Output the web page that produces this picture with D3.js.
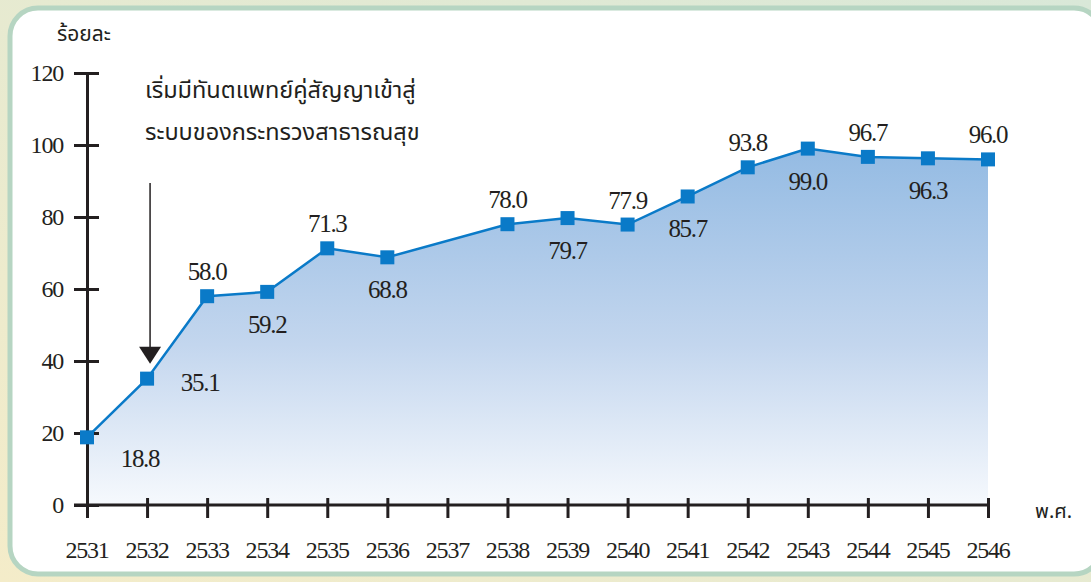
<!DOCTYPE html>
<html>
<head>
<meta charset="utf-8">
<script src="https://cdn.jsdelivr.net/npm/d3@7"></script>
<style>
  body { margin: 0; background: #fff; }
  svg { display: block; }
</style>
</head>
<body>
<div id="chart"></div>
<script>
// ข้อมูล: ร้อยละ ตามปี พ.ศ. (2537 ไม่มีข้อมูล)
const years = [2531, 2532, 2533, 2534, 2535, 2536, 2537, 2538, 2539, 2540, 2541, 2542, 2543, 2544, 2545, 2546];
const values = [18.8, 35.1, 58.0, 59.2, 71.3, 68.8, null, 78.0, 79.7, 77.9, 85.7, 93.8, 99.0, 96.7, 96.3, 96.0];
const yTicks = [0, 20, 40, 60, 80, 100, 120];
const yTitle = "ร้อยละ";
const xTitle = "พ.ศ.";
const note = ["เริ่มมีทันตแพทย์คู่สัญญาเข้าสู่", "ระบบของกระทรวงสาธารณสุข"];
const noteYear = 2532;

const width = 1091, height = 582;
const numFont = '"Liberation Serif"';
const thaiFont = '"Noto Sans Thai"';
const ink = "#231f20";

const svg = d3.select("#chart").append("svg")
    .attr("width", width)
    .attr("height", height);

const defs = svg.append("defs");
const bg = defs.append("linearGradient").attr("id", "bg")
    .attr("x1", "0").attr("y1", "1").attr("x2", "1").attr("y2", "0");
bg.append("stop").attr("offset", "0%").attr("stop-color", "#f4ecc9");
bg.append("stop").attr("offset", "100%").attr("stop-color", "#d9e8d8");

// fond + panneau
svg.append("rect").attr("width", width).attr("height", height).attr("fill", "url(#bg)");
svg.append("rect")
    .attr("x", 10).attr("y", 8)
    .attr("width", 1092).attr("height", 566)
    .attr("rx", 28)
    .attr("fill", "#fff")
    .attr("stroke", "#b6d5c2")
    .attr("stroke-width", 5);

const x = d3.scalePoint().domain(years).range([87, 988]);
const y = d3.scaleLinear().domain([0, 120]).range([505, 73]);

const pts = years.map((yr, i) => ({year: yr, value: values[i]})).filter(d => d.value != null);

// dégradé de la surface
const grad = defs.append("linearGradient").attr("id", "areaGrad")
    .attr("gradientUnits", "userSpaceOnUse")
    .attr("x1", 0).attr("x2", 0)
    .attr("y1", y(d3.max(values))).attr("y2", y(0));
grad.append("stop").attr("offset", "0%").attr("stop-color", "#94bbe3");
grad.append("stop").attr("offset", "55%").attr("stop-color", "#c3d6ee");
grad.append("stop").attr("offset", "100%").attr("stop-color", "#f6f9fd");

svg.append("path")
    .datum(pts)
    .attr("fill", "url(#areaGrad)")
    .attr("d", d3.area().x(d => x(d.year)).y0(y(0)).y1(d => y(d.value)));

// axes (traits seulement, textes ajoutés à part)
const yAxis = svg.append("g")
    .attr("transform", `translate(${x(years[0])},0)`)
    .call(d3.axisLeft(y).tickValues(yTicks).tickSize(13).tickSizeOuter(0).tickFormat(""));
yAxis.selectAll(".tick line").attr("x1", 12);

const xAxis = svg.append("g")
    .attr("transform", `translate(0,${y(0)})`)
    .call(d3.axisBottom(x).tickSize(13).tickSizeOuter(0).tickFormat(""));
xAxis.selectAll(".tick line").attr("y1", -7);

[yAxis, xAxis].forEach(g => {
  g.selectAll("path.domain").attr("stroke", ink).attr("stroke-width", 3);
  g.selectAll(".tick line").attr("stroke", ink).attr("stroke-width", 3);
});
// prolonge l'axe x jusqu'au tick de gauche
xAxis.select("path.domain").attr("d", `M${x(years[0]) - 13},0H${x(years[years.length - 1])}`);

svg.append("g").selectAll("text")
    .data(yTicks)
    .join("text")
    .attr("x", x(years[0]) - 24)
    .attr("y", d => y(d) + 8)
    .attr("text-anchor", "end")
    .attr("fill", ink)
    .style("font-family", numFont)
    .style("font-size", "24px")
    .style("letter-spacing", "-1.2px")
    .text(d => String(d));

svg.append("g").selectAll("text")
    .data(years)
    .join("text")
    .attr("x", d => x(d))
    .attr("y", y(0) + 53)
    .attr("text-anchor", "middle")
    .attr("fill", ink)
    .style("font-family", numFont)
    .style("font-size", "24px")
    .style("letter-spacing", "-1.2px")
    .text(d => String(d));

// ligne + points
svg.append("path")
    .datum(pts)
    .attr("fill", "none")
    .attr("stroke", "#0a7ac8")
    .attr("stroke-width", 2.5)
    .attr("d", d3.line().x(d => x(d.year)).y(d => y(d.value)));

svg.append("g").selectAll("rect")
    .data(pts)
    .join("rect")
    .attr("x", d => x(d.year) - 7)
    .attr("y", d => y(d.value) - 7)
    .attr("width", 14).attr("height", 14)
    .attr("fill", "#0a7ac8");

// étiquettes: les deux premières en bas à droite, puis alternance dessus/dessous
svg.append("g").selectAll("text")
    .data(pts)
    .join("text")
    .attr("x", (d, i) => x(d.year) + (i < 2 ? 53 : 0))
    .attr("y", (d, i) => {
      if (i === 0) return y(d.value) + 30;
      if (i === 1) return y(d.value) + 12;
      return i % 2 === 0 ? y(d.value) - 16 : y(d.value) + 41;
    })
    .attr("text-anchor", "middle")
    .attr("fill", ink)
    .style("font-family", numFont)
    .style("font-size", "25px")
    .style("letter-spacing", "-1.3px")
    .text(d => d.value.toFixed(1));

// titres
svg.append("text")
    .attr("x", 57).attr("y", 41)
    .attr("fill", ink)
    .style("font-family", thaiFont)
    .style("font-size", "21px")
    .text(yTitle);

svg.append("text")
    .attr("x", 1035).attr("y", 518)
    .attr("fill", ink)
    .style("font-family", thaiFont)
    .style("font-size", "20px")
    .text(xTitle);

// annotation
svg.append("g").selectAll("text")
    .data(note)
    .join("text")
    .attr("x", 145)
    .attr("y", (d, i) => 98 + i * 42)
    .attr("fill", ink)
    .style("font-family", thaiFont)
    .style("font-size", "23.5px")
    .text(d => d);

const ax = x(noteYear) + 3;
const tip = y(values[years.indexOf(noteYear)]) - 15;
svg.append("line")
    .attr("x1", ax).attr("x2", ax)
    .attr("y1", 183).attr("y2", tip - 14)
    .attr("stroke", ink).attr("stroke-width", 1.5);
svg.append("path")
    .attr("d", `M${ax - 11},${tip - 17}L${ax + 11},${tip - 17}L${ax},${tip}Z`)
    .attr("fill", ink);
</script>
</body>
</html>
